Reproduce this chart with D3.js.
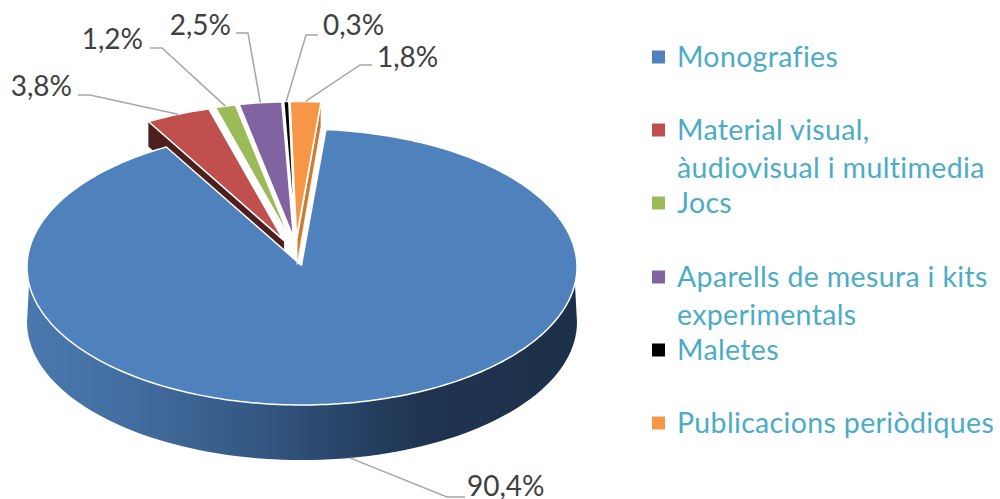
<!DOCTYPE html>
<html><head><meta charset="utf-8">
<script src="https://cdnjs.cloudflare.com/ajax/libs/d3/7.8.5/d3.min.js"></script>
<style>html,body{margin:0;background:#fff;overflow:hidden}svg{display:block}text{font-family:Lato,"Open Sans",sans-serif}</style>
</head><body><svg id="c" width="1000" height="499"></svg>
<script>
const categories = ["Monografies","Material visual,|àudiovisual i multimedia","Jocs","Aparells de mesura i kits|experimentals","Maletes","Publicacions periòdiques"];
const values = [90.4,3.8,1.2,2.5,0.3,1.8];
const valueLabels = ["90,4%","3,8%","1,2%","2,5%","0,3%","1,8%"];
const colors = ["#4f81bd","#c0504d","#9bbb59","#8064a2","#000000","#f79646"];
const sideColors = [null,"#4f1f1d","#4a5f22","#3f3053","#000000","#cc7d33"];
const explode = [0,0.2,0.2,0.2,0.2,0.2];
const nudge = [0,0.012,0.006,-0.004,-0.015,-0.024];
const startDeg = 5;
// label layout: [label x, label baseline, elbow x, elbow y, anchor]
const labelLayout = [
 [467,496,447,497,"start"],[72,96,90,95,"end"],[143,49,162,48,"end"],[231,35,248,33,"end"],[323,35,306,35,"start"],[377,67,360,65,"start"]];
const legendRows = [57,130,203,277,350,423];

const svg = d3.select("#c");
const x = d3.scaleLinear([-1,1],[27,577]);
const y = d3.scaleLinear([-1,1],[129,405]);
const depth = d3.scaleLinear([-1.2,-0.2,0,1],[25,25,55,55]);
const pie = d3.pie().sort(null).value(d=>d)
  .startAngle(startDeg*Math.PI/180).endAngle(startDeg*Math.PI/180+2*Math.PI);
const arcs = pie(values).map((a,i)=>{
  const mid=(a.startAngle+a.endAngle)/2, e=explode[i];
  return {...a,i,mid,ox:e*Math.sin(mid)+nudge[i],oy:-e*Math.cos(mid)};
});
const pt=(a,ang,r=1)=>[a.ox+r*Math.sin(ang),a.oy-r*Math.cos(ang)];
const px=p=>[x(p[0]),y(p[1])];
const line=d3.line();
function topPath(a){
  const n=Math.max(4,Math.ceil((a.endAngle-a.startAngle)/0.02));
  const pts=d3.range(n+1).map(k=>px(pt(a,a.startAngle+(a.endAngle-a.startAngle)*k/n)));
  return line([px([a.ox-0.002,a.oy-0.012]),...pts])+"Z";
}
function radialSide(a,ang){
  const c=[a.ox,a.oy],o=pt(a,ang);
  return line([px(c),px(o),[x(o[0]),y(o[1])+depth(o[1])],[x(c[0]),y(c[1])+depth(c[1])]])+"Z";
}
const defs=svg.append("defs");
const grad=defs.append("linearGradient").attr("id","side").attr("gradientUnits","userSpaceOnUse")
  .attr("x1",x(-1)).attr("x2",x(1)).attr("y1",0).attr("y2",0);
[[0,"#4a78ae"],[0.2,"#426c9e"],[0.45,"#32547f"],[0.62,"#253f60"],[0.72,"#1f3450"],[1,"#1d3049"]]
  .forEach(s=>grad.append("stop").attr("offset",s[0]).attr("stop-color",s[1]));

// blue outer wall: top edge starts a little below the widest point, bottom edge spans the full width
const blue=arcs[0];
const wallLower=d3.range(90,271,2).map(d=>pt(blue,d*Math.PI/180));
const wallUpper=d3.range(263,96,-2).map(d=>pt(blue,d*Math.PI/180));
svg.append("path").attr("fill","url(#side)")
  .attr("d",line([...wallLower.map(p=>[x(p[0]),y(p[1])+depth(p[1])]),...wallUpper.map(px)])+"Z");

// radial face of the red slice, behind the big slice
svg.append("path").attr("fill",sideColors[1]).attr("d",radialSide(arcs[1],arcs[1].startAngle));
// big slice top
svg.append("path").attr("d",topPath(blue)).attr("fill",colors[0]).attr("stroke","#fff").attr("stroke-width",1.5).attr("stroke-linejoin","round");
// orange radial face
svg.append("path").attr("fill",sideColors[5]).attr("stroke","#fff").attr("stroke-width",0.8).attr("d",radialSide(arcs[5],arcs[5].endAngle));
// small slice tops
arcs.slice(1).forEach(a=>{
  svg.append("path").attr("d",topPath(a)).attr("fill",colors[a.i]).attr("stroke","#fff").attr("stroke-width",1.6).attr("stroke-linejoin","round");
});
// leader lines + labels
arcs.forEach(a=>{
  const L=labelLayout[a.i];
  let s=px(pt(a,a.mid));
  if(a.i===0){ const o=pt(a,170*Math.PI/180); s=[x(o[0]),y(o[1])+depth(o[1])]; }
  svg.append("path").attr("fill","none").attr("stroke","#a6a6a6").attr("stroke-width",1.5)
    .attr("d",line([s,[L[2],L[3]],[L[2]+(L[4]==="end"?-12:(a.i===0?18:12)),L[3]]]));
  svg.append("text").attr("x",L[0]).attr("y",L[1]).attr("text-anchor",L[4]==="end"?"end":"start")
    .attr("font-size",28).attr("fill","#404040").text(valueLabels[a.i]);
});
// legend
categories.forEach((c,i)=>{
  const cy=legendRows[i], parts=c.split("|");
  svg.append("rect").attr("x",652).attr("y",cy-6.5).attr("width",13).attr("height",13).attr("fill",colors[i]);
  parts.forEach((t,k)=>{
    svg.append("text").attr("x",677).attr("y",cy+10+k*37.5).attr("font-size",28.5).attr("letter-spacing",0.35).attr("fill","#4bacc6").text(t);
  });
});
</script></body></html>
